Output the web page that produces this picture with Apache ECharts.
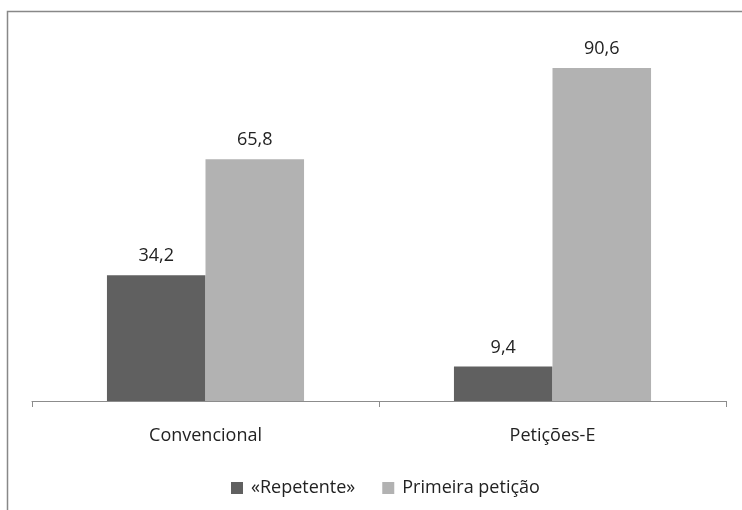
<!DOCTYPE html>
<html><head><meta charset="utf-8">
<script src="https://cdn.jsdelivr.net/npm/echarts@6/dist/echarts.min.js"></script>
<style>html,body{margin:0;padding:0;background:#fff}#c{width:742px;height:510px}</style>
</head><body><div id="c"></div>
<script>
const categories = ["Convencional", "Petições-E"];
const seriesNames = ["«Repetente»", "Primeira petição"];
const repetente = [34.2, 9.4];
const primeira = [65.8, 90.6];
const colors = ["#606060", "#b2b2b2"];
const font = "Open Sans";
const chart = echarts.init(document.getElementById('c'));
const lbl = {show:true, position:'top', distance:10, color:'#222', fontSize:18, fontFamily:font,
  formatter: p => String(p.value).replace('.', ',')};
chart.setOption({
  animation:false,
  backgroundColor:'#fff',
  grid:{left:32, right:16, top:33.5, bottom:109},
  xAxis:{type:'category', data:categories,
    axisLine:{lineStyle:{color:'#8c8c8c', width:1}},
    axisTick:{show:true, length:6, lineStyle:{color:'#8c8c8c'}},
    axisLabel:{color:'#222', fontSize:18, fontFamily:font, margin:26}},
  yAxis:{type:'value', min:0, max:100, show:false, splitLine:{show:false}},
  legend:{top:474, left:226, itemWidth:12, itemHeight:12, itemGap:27, icon:'rect',
    textStyle:{color:'#222', fontSize:18, fontFamily:font, padding:[0,0,0,3]}, data:seriesNames},
  series:[
    {name:seriesNames[0], type:'bar', data:repetente, barWidth:'28.4%', barGap:'0%',
      itemStyle:{color:colors[0]}, label:lbl},
    {name:seriesNames[1], type:'bar', data:primeira, barWidth:'28.4%', barGap:'0%',
      itemStyle:{color:colors[1]}, label:lbl}
  ],
  graphic:[{type:'polyline', shape:{points:[[7.5,510],[7.5,11.5],[742,11.5]]},
    style:{stroke:'#888', lineWidth:1.5, fill:null}}]
});
</script></body></html>
